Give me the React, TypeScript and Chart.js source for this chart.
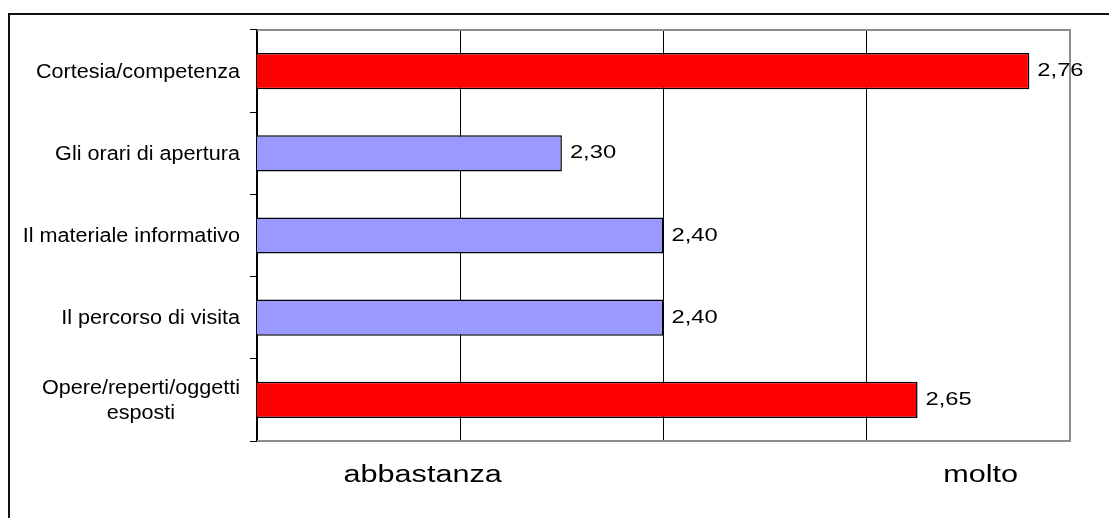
import React, { useEffect, useRef } from "react";
import { Chart, registerables } from "chart.js";

Chart.register(...registerables);

// Voci valutate (dall'alto verso il basso) e punteggio medio
const categories: string[][] = [
  ["Cortesia/competenza"],
  ["Gli orari di apertura"],
  ["Il materiale informativo"],
  ["Il percorso di visita"],
  ["Opere/reperti/oggetti", "esposti"],
];
const scores: number[] = [2.76, 2.3, 2.4, 2.4, 2.65];
const barColors: string[] = ["#FF0000", "#9999FF", "#9999FF", "#9999FF", "#FF0000"];

// Scala di giudizio riportata sotto l'asse
const scaleWords: string[] = ["abbastanza", "molto"];
const scaleWordAt: number[] = [2.163, 2.712];

const axisMin = 2;
const axisMax = 2.8;
const axisStep = 0.2;

const FONT = '"Liberation Sans", Arial, sans-serif';

function stretchedText(
  ctx: CanvasRenderingContext2D,
  text: string,
  x: number,
  y: number,
  sx: number
) {
  ctx.save();
  ctx.translate(x, y);
  ctx.scale(sx, 1);
  ctx.fillText(text, 0, 0);
  ctx.restore();
}

const decorPlugin = {
  id: "decor",
  beforeDraw(chart: any) {
    const ctx: CanvasRenderingContext2D = chart.ctx;
    ctx.save();
    ctx.strokeStyle = "#111";
    ctx.lineWidth = 2;
    ctx.beginPath();
    ctx.moveTo(9, chart.height);
    ctx.lineTo(9, 14);
    ctx.lineTo(chart.width, 14);
    ctx.stroke();
    ctx.restore();
  },
  afterDatasetsDraw(chart: any) {
    const ctx: CanvasRenderingContext2D = chart.ctx;
    const { left, right, top, bottom } = chart.chartArea;
    ctx.save();
    // gray frame of the plot area (top, right, bottom)
    ctx.strokeStyle = "#8c8c8c";
    ctx.lineWidth = 2;
    ctx.beginPath();
    ctx.moveTo(left, top);
    ctx.lineTo(right, top);
    ctx.lineTo(right, bottom);
    ctx.lineTo(left, bottom);
    ctx.stroke();

    // value labels at the end of each bar
    ctx.fillStyle = "#000";
    ctx.font = `19px ${FONT}`;
    ctx.textAlign = "left";
    ctx.textBaseline = "alphabetic";
    const meta = chart.getDatasetMeta(0);
    meta.data.forEach((bar: any, i: number) => {
      const label = scores[i].toFixed(2).replace(".", ",");
      stretchedText(ctx, label, bar.x + 8, bar.y + 5, 1.25);
    });

    // category labels on the left
    const yScale = chart.scales.y;
    const rightEdge = yScale.right - 17;
    const sxCat = 1.08;
    ctx.font = `20px ${FONT}`;
    ctx.textAlign = "center";
    categories.forEach((lines, i) => {
      const cy = yScale.getPixelForValue(i);
      const widths = lines.map((l) => ctx.measureText(l).width * sxCat);
      const blockW = Math.max(...widths);
      const cx = rightEdge - blockW / 2;
      const first = cy + 6.5 - ((lines.length - 1) * 25) / 2;
      lines.forEach((l, k) => stretchedText(ctx, l, cx, first + k * 25, sxCat));
    });

    // judgement words under the axis
    const xScale = chart.scales.x;
    ctx.font = `23px ${FONT}`;
    ctx.textAlign = "center";
    scaleWords.forEach((w, i) => {
      stretchedText(ctx, w, xScale.getPixelForValue(scaleWordAt[i]), bottom + 41, 1.33);
    });
    ctx.restore();
  },
};

export default function App() {
  const canvasRef = useRef<HTMLCanvasElement | null>(null);

  useEffect(() => {
    if (!canvasRef.current) return;
    const chart = new Chart(canvasRef.current, {
      type: "bar",
      data: {
        labels: categories.map((c) => c.join(" ")),
        datasets: [
          {
            data: scores,
            backgroundColor: barColors,
            borderColor: "#000",
            borderWidth: 1.5,
            borderSkipped: false,
            categoryPercentage: 1,
            barPercentage: 0.44,
          },
        ],
      },
      options: {
        indexAxis: "y",
        responsive: false,
        animation: false,
        devicePixelRatio: 1,
        layout: { padding: { top: 30, right: 39, bottom: 0, left: 0 } },
        plugins: {
          legend: { display: false },
          tooltip: { enabled: false },
        },
        scales: {
          x: {
            type: "linear",
            min: axisMin,
            max: axisMax,
            ticks: { display: false, stepSize: axisStep },
            border: { display: false },
            grid: {
              drawTicks: false,
              lineWidth: 1,
              color: (c: any) => {
                const v = c.tick ? c.tick.value : NaN;
                return v > axisMin + 1e-6 && v < axisMax - 1e-6 ? "#000" : "rgba(0,0,0,0)";
              },
            },
            afterFit: (s: any) => {
              s.height = 77;
            },
          },
          y: {
            type: "category",
            offset: true,
            ticks: { display: false },
            border: { display: true, color: "#000", width: 2 },
            grid: {
              drawOnChartArea: false,
              drawTicks: true,
              tickLength: 7,
              color: "#000",
              lineWidth: 1,
              offset: true,
            },
            afterFit: (s: any) => {
              s.width = 257;
            },
          },
        },
      },
      plugins: [decorPlugin],
    });
    return () => chart.destroy();
  }, []);

  return (
    <div style={{ position: "absolute", left: 0, top: 0, width: 1109, height: 518, background: "#fff" }}>
      <canvas ref={canvasRef} width={1109} height={518} />
    </div>
  );
}
